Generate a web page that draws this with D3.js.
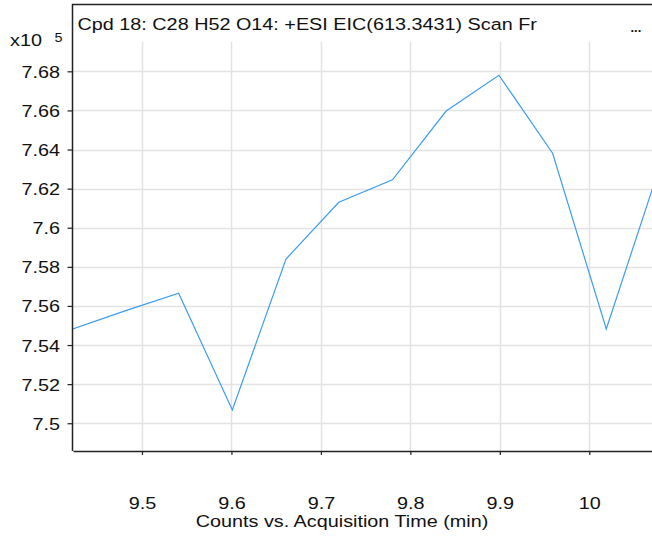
<!DOCTYPE html>
<html>
<head>
<meta charset="utf-8">
<script src="https://cdn.jsdelivr.net/npm/d3@7"></script>
<style>
  html, body { margin: 0; padding: 0; background: #fff; }
  svg { display: block; font-family: "Liberation Sans", Arial, Helvetica, sans-serif; }
</style>
</head>
<body>
<svg id="chart" width="652" height="536"></svg>
<script>
// ---- data ----
const titleText = "Cpd 18: C28 H52 O14: +ESI EIC(613.3431) Scan Fr";
const xLabel = "Counts vs. Acquisition Time (min)";
const times = [9.421, 9.481, 9.541, 9.601, 9.661, 9.720, 9.780, 9.840, 9.899, 9.959, 10.019, 10.079];
const counts = [7.548, 7.5575, 7.5665, 7.5068, 7.5840, 7.6130, 7.6245, 7.6597, 7.6780, 7.6381, 7.5482, 7.6316]; // x10^5
const xTicks = [9.5, 9.6, 9.7, 9.8, 9.9, 10];
const xTickLabels = ["9.5", "9.6", "9.7", "9.8", "9.9", "10"];
const yTicks = [7.5, 7.52, 7.54, 7.56, 7.58, 7.6, 7.62, 7.64, 7.66, 7.68];
const yTickLabels = ["7.5", "7.52", "7.54", "7.56", "7.58", "7.6", "7.62", "7.64", "7.66", "7.68"];

(function () {
// ---- layout ----
const svg = d3.select("#chart");
const pLeft = 73, pRight = 652, pTop = 42, pBottom = 451, frameTop = 4.5;
const FS = 16.5, SX = 1.2; // font size and horizontal stretch
const ink = "#111";

const x = d3.scaleLinear().domain([9.4229, 10.0701]).range([pLeft, pRight]);
const y = d3.scaleLinear().domain([7.4858, 7.695]).range([pBottom, pTop]);

const gridColor = "#e3e3e3";

// grid
svg.append("g").selectAll("line").data(xTicks).join("line")
  .attr("x1", d => Math.round(x(d)) + 0.5).attr("x2", d => Math.round(x(d)) + 0.5)
  .attr("y1", pTop).attr("y2", pBottom)
  .attr("stroke", gridColor).attr("stroke-width", 1.5);
svg.append("g").selectAll("line").data(yTicks).join("line")
  .attr("x1", pLeft).attr("x2", pRight)
  .attr("y1", d => Math.round(y(d)) + 0.5).attr("y2", d => Math.round(y(d)) + 0.5)
  .attr("stroke", gridColor).attr("stroke-width", 1.5);

// clip
svg.append("clipPath").attr("id", "clip").append("rect")
  .attr("x", pLeft).attr("y", pTop).attr("width", pRight - pLeft).attr("height", pBottom - pTop);

// line
const line = d3.line().x((d, i) => x(times[i])).y(d => y(d));
svg.append("path").datum(counts)
  .attr("clip-path", "url(#clip)")
  .attr("fill", "none").attr("stroke", "#3d9cf5").attr("stroke-width", 1.2)
  .attr("d", line);

// frame
svg.append("path")
  .attr("d", `M${pLeft - 0.5},${pBottom} V${frameTop} H${pRight}`)
  .attr("fill", "none").attr("stroke", "#222").attr("stroke-width", 1.5);

// axes
const xAxis = d3.axisBottom(x).tickValues(xTicks).tickSize(4).tickSizeOuter(0)
  .tickFormat((d, i) => xTickLabels[i]);
const gx = svg.append("g").attr("transform", `translate(0,${pBottom})`).call(xAxis);
gx.select(".domain").attr("stroke", "#222").attr("stroke-width", 1.5);
gx.selectAll(".tick line").attr("stroke", "#222").attr("stroke-width", 1.2);
gx.selectAll(".tick text").attr("font-size", FS).attr("fill", ink)
  .attr("font-family", "Liberation Sans, Arial, sans-serif")
  .attr("y", 58).attr("dy", 0).attr("transform", `scale(${SX},1)`);

const yAxis = d3.axisLeft(y).tickValues(yTicks).tickSize(5).tickSizeOuter(0)
  .tickFormat((d, i) => yTickLabels[i]);
const gy = svg.append("g").attr("transform", `translate(${pLeft - 0.5},0)`).call(yAxis);
gy.select(".domain").remove();
gy.selectAll(".tick line").attr("stroke", "#222").attr("stroke-width", 1.2);
gy.selectAll(".tick text").attr("font-size", FS).attr("fill", ink)
  .attr("font-family", "Liberation Sans, Arial, sans-serif")
  .attr("x", -12.5 / SX).attr("dy", 6).attr("transform", `scale(${SX},1)`);

function stretched(px, py, str, size, anchor) {
  return svg.append("text")
    .attr("transform", `translate(${px},${py}) scale(${SX},1)`)
    .attr("font-size", size).attr("fill", ink)
    .attr("text-anchor", anchor || "start")
    .text(str);
}

// title
stretched(77.5, 30, titleText, FS);
svg.append("text").attr("x", 630.5).attr("y", 32).attr("font-size", 13).attr("fill", ink)
  .attr("font-weight", "bold").text("...");

// exponent label
stretched(10, 45.7, "x10", FS);
stretched(54.5, 42, "5", 12);

// x-axis title
stretched(342, 527, xLabel, FS, "middle");
})();
</script>
</body>
</html>
